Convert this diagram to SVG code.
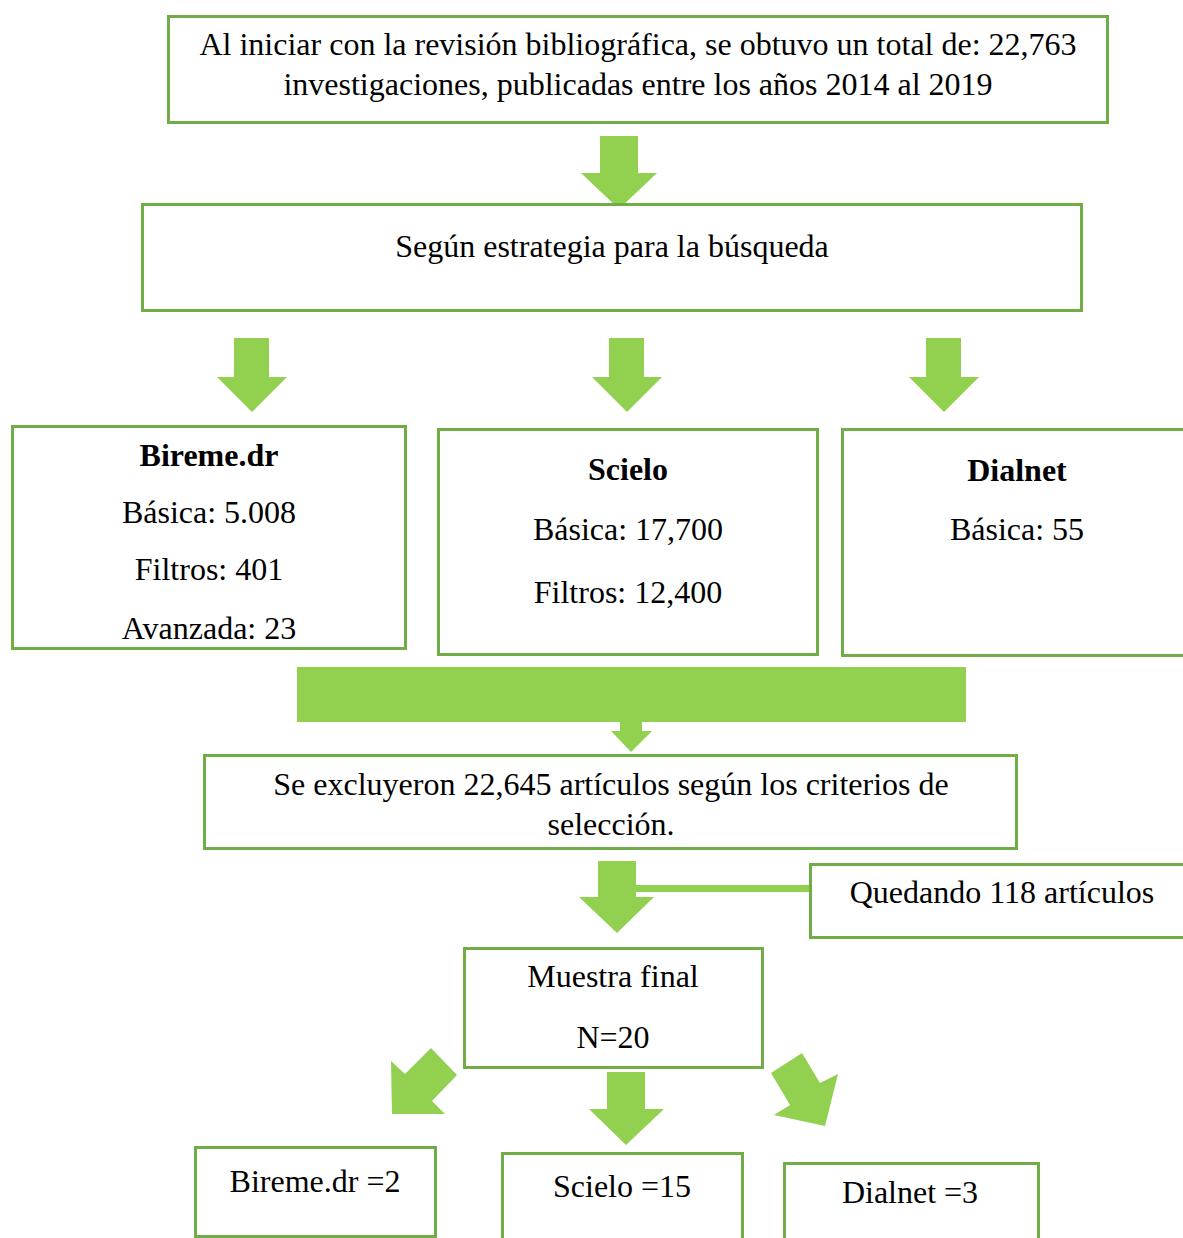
<svg xmlns="http://www.w3.org/2000/svg" width="1183" height="1238" viewBox="0 0 1183 1238">
<style>
.box{fill:#fff;stroke:#70AD47;stroke-width:3}
.arr{fill:#92D050}
text{font-family:"Liberation Serif","Times New Roman",serif;font-size:32px;fill:#000;text-anchor:middle}
.b{font-weight:bold}
</style>
<rect width="1183" height="1238" fill="#fff"/>
<g id="connectors">
<polygon class="arr" points="600,136 638,136 638,173 657,173 619,209 581,173 600,173"/>
<polygon class="arr" points="234,338 269,338 269,377 287,377 252,412 217,377 234,377"/>
<polygon class="arr" points="609,338 644,338 644,377 662,377 627,412 592,377 609,377"/>
<polygon class="arr" points="926,338 961,338 961,377 979,377 944,412 909,377 926,377"/>
<polygon class="arr" points="297,667 966,667 966,722 642,722 642,731 652,731 631,752 611,731 620,731 620,722 297,722"/>
<polygon class="arr" points="598,861 636,861 636,897 654,897 617,933 579,897 598,897"/>
<rect class="arr" x="636" y="885" width="173" height="7"/>
<polygon class="arr" points="431,1048 457,1075 432,1101 445,1114 392,1114 391,1061 405,1074"/>
<polygon class="arr" points="607,1072 645,1072 645,1109 664,1109 626,1145 589,1109 607,1109"/>
<polygon class="arr" points="771,1073 802,1053 820,1083 838,1074 825,1126 774,1115 790,1105"/>
</g>
<g id="n-inicio">
<rect class="box" x="168.5" y="16.5" width="939" height="106"/>
<text x="638" y="55">Al iniciar con la revisión bibliográfica, se obtuvo un total de: 22,763</text>
<text x="638" y="95">investigaciones, publicadas entre los años 2014 al 2019</text>
</g>
<g id="n-estrategia">
<rect class="box" x="142.5" y="204.5" width="939" height="106"/>
<text x="612" y="257">Según estrategia para la búsqueda</text>
</g>
<g id="n-bireme">
<rect class="box" x="12.5" y="426.5" width="393" height="222"/>
<text class="b" x="209" y="466">Bireme.dr</text>
<text x="209" y="523">Básica: 5.008</text>
<text x="209" y="580">Filtros: 401</text>
<text x="209" y="639">Avanzada: 23</text>
</g>
<g id="n-scielo">
<rect class="box" x="438.5" y="429.5" width="379" height="225"/>
<text class="b" x="628" y="480">Scielo</text>
<text x="628" y="540">Básica: 17,700</text>
<text x="628" y="603">Filtros: 12,400</text>
</g>
<g id="n-dialnet">
<rect class="box" x="842.5" y="429.5" width="360" height="226"/>
<text class="b" x="1017" y="481">Dialnet</text>
<text x="1017" y="540">Básica: 55</text>
</g>
<g id="n-excluidos">
<rect class="box" x="204.5" y="755.5" width="812" height="93"/>
<text x="611" y="795">Se excluyeron 22,645 artículos según los criterios de</text>
<text x="611" y="835">selección.</text>
</g>
<g id="n-quedando">
<rect class="box" x="810.5" y="864.5" width="400" height="73"/>
<text x="1002" y="903">Quedando 118 artículos</text>
</g>
<g id="n-muestra">
<rect class="box" x="464.5" y="948.5" width="298" height="119"/>
<text x="613" y="987">Muestra final</text>
<text x="613" y="1048">N=20</text>
</g>
<g id="n-bireme2">
<rect class="box" x="195.5" y="1147.5" width="240" height="89"/>
<text x="315" y="1192">Bireme.dr =2</text>
</g>
<g id="n-scielo2">
<rect class="box" x="502.5" y="1153.5" width="240" height="100"/>
<text x="622" y="1197">Scielo =15</text>
</g>
<g id="n-dialnet2">
<rect class="box" x="784.5" y="1163.5" width="254" height="100"/>
<text x="910" y="1203">Dialnet =3</text>
</g>
</svg>
